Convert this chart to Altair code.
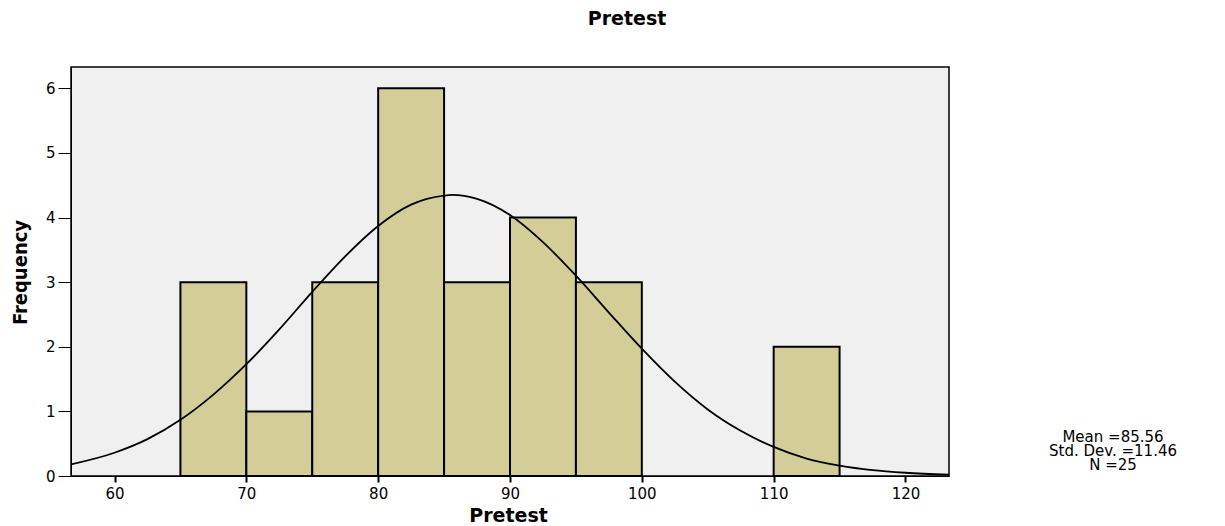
import altair as alt
import pandas as pd

# Histogram bins (lower edge, upper edge) and counts
bin_start = [65, 70, 75, 80, 85, 90, 95, 110]
bin_end = [70, 75, 80, 85, 90, 95, 100, 115]
counts = [3, 1, 3, 6, 3, 4, 3, 2]

# Normal curve
curve_x = [56.7, 60, 62.5, 65, 67.5, 70, 72.5, 75, 77.5, 80, 82.5, 85, 85.6,
           87.5, 90, 92.5, 95, 97.5, 100, 102.5, 105, 107.5, 110, 112.5, 115,
           117.5, 120, 123.3]
curve_y = [0.18, 0.36, 0.57, 0.87, 1.26, 1.73, 2.27, 2.85, 3.40, 3.87, 4.20,
           4.34, 4.35, 4.29, 4.04, 3.62, 3.10, 2.53, 1.97, 1.46, 1.03, 0.70,
           0.45, 0.27, 0.16, 0.09, 0.05, 0.02]

stats_lines = ["Mean =85.56", "Std. Dev. =11.46", "N =25"]

x_ticks = [60, 70, 80, 90, 100, 110, 120]
y_ticks = [0, 1, 2, 3, 4, 5, 6]

bars_df = pd.DataFrame({"start": bin_start, "end": bin_end, "count": counts,
                        "base": [0] * len(counts)})
curve_df = pd.DataFrame({"x": curve_x, "y": curve_y})
stats_df = pd.DataFrame({"t": ["\n".join(stats_lines)]})

W, H = 878, 409
xdom = [56.7, 123.3]
ydom = [0, 6.33]

xscale = alt.Scale(domain=xdom, nice=False, zero=False)
yscale = alt.Scale(domain=ydom, nice=False)

LABEL_FONT = "DejaVu Sans"

xaxis = alt.Axis(
    values=x_ticks, title="Pretest", grid=False, format="d",
    domainColor="black", tickColor="black", tickSize=6, tickWidth=2,
    labelFont=LABEL_FONT, labelFontSize=15, labelColor="black", labelPadding=4,
    titleFont="DejaVu Sans", titleFontWeight="bold", titleFontSize=19,
    titleColor="black", titleX=437, titleY=39, titleBaseline="middle",
    titleAnchor="start", titleAlign="center",
)
yaxis = alt.Axis(
    values=y_ticks, title="Frequency", grid=False, format="d",
    domainColor="black", tickColor="black", tickSize=13, tickWidth=1,
    labelFont=LABEL_FONT, labelFontSize=15, labelColor="black", labelPadding=3,
    titleFont="DejaVu Sans Condensed, Liberation Sans", titleFontWeight="bold",
    titleFontSize=20, titleColor="black", titleX=-51, titleY=205, titleAngle=-90,
    titleBaseline="middle", titleAlign="center", titleAnchor="start",
)

bars = alt.Chart(bars_df).mark_bar(
    fill="#D3CE98", stroke="black", strokeWidth=2
).encode(
    x=alt.X("start:Q", scale=xscale, axis=xaxis),
    x2="end:Q",
    y=alt.Y("count:Q", scale=yscale, axis=yaxis),
    y2="base:Q",
)

curve = alt.Chart(curve_df).mark_line(
    color="black", strokeWidth=1.8, interpolate="monotone", clip=True
).encode(
    x=alt.X("x:Q", scale=xscale),
    y=alt.Y("y:Q", scale=yscale),
)

stats = alt.Chart(stats_df).mark_text(
    font=LABEL_FONT, fontSize=15, color="black", align="center",
    baseline="middle", lineBreak="\n", lineHeight=14
).encode(
    x=alt.value(1042),
    y=alt.value(370),
    text="t:N",
)

chart = alt.layer(bars, curve, stats).properties(
    width=W, height=H,
    title=alt.TitleParams(
        "Pretest", font="DejaVu Sans", fontWeight="bold", fontSize=19,
        color="black", anchor="middle", dx=117, offset=38,
    ),
    autosize=alt.AutoSizeParams(type="none"),
    padding={"left": 63, "top": 59, "right": 260, "bottom": 50},
).configure_view(
    fill="#F0F0F0", stroke="black", strokeWidth=1.5
)

chart.save("out.html", embed_options={"renderer": "svg", "actions": False})
